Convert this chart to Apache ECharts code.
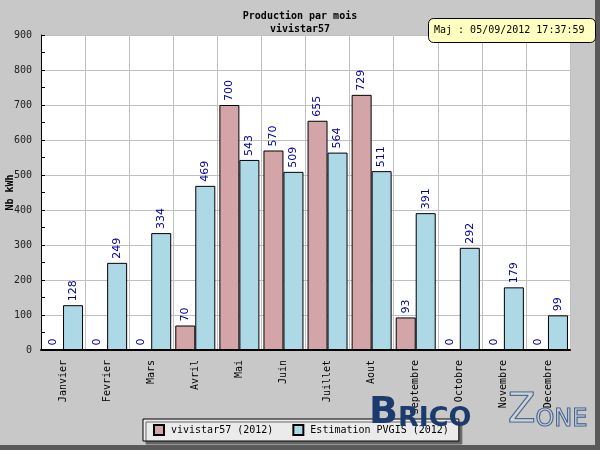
<!DOCTYPE html>
<html>
<head>
<meta charset="utf-8">
<script src="https://cdn.jsdelivr.net/npm/echarts@6/dist/echarts.min.js"></script>
<style>
  html, body { margin: 0; padding: 0; }
  #chart { width: 600px; height: 450px; }
</style>
</head>
<body>
<div id="chart"></div>
<script>
var mois = ['Janvier', 'Fevrier', 'Mars', 'Avril', 'Mai', 'Juin', 'Juillet', 'Aout', 'Septembre', 'Octobre', 'Novembre', 'Decembre']
var production = [0, 0, 0, 70, 700, 570, 655, 729, 93, 0, 0, 0]
var estimation = [128, 249, 334, 469, 543, 509, 564, 511, 391, 292, 179, 99]
var noms = ['vivistar57 (2012)', 'Estimation PVGIS (2012)']

var mono = ['DejaVu Sans Mono', 'Liberation Mono', 'monospace']

var chart = echarts.init(document.getElementById('chart'))

function barLabel() {
  return {
    show: true,
    position: 'top',
    rotate: 90,
    align: 'left',
    verticalAlign: 'middle',
    distance: 4,
    color: '#00009c',
    fontSize: 11,
    fontFamily: 'DejaVu Sans',
  }
}

var option = {
  backgroundColor: '#c8c8c8',
  animation: false,
  title: {
    text: 'Production par mois\nvivistar57',
    left: 'center',
    top: 5,
    textStyle: {
      fontFamily: mono,
      fontSize: 10,
      fontWeight: 'bold',
      color: '#000',
      lineHeight: 13,
    },
  },
  grid: {
    left: 41,
    right: 30,
    top: 35,
    bottom: 100,
    containLabel: false,
    outerBoundsMode: 'none',
    show: true,
    backgroundColor: '#fff',
    borderWidth: 0,
  },
  legend: {
    data: noms,
    icon: 'rect',
    left: 143,
    top: 419,
    padding: [5, 10, 5, 10],
    itemGap: 19,
    itemWidth: 10,
    itemHeight: 10,
    backgroundColor: '#ebebeb',
    borderColor: '#000',
    borderWidth: 1,
    shadowColor: '#666',
    shadowOffsetX: 3,
    shadowOffsetY: 3,
    shadowBlur: 0,
    textStyle: {
      fontFamily: mono,
      fontSize: 10,
      color: '#000',
      padding: [0, 0, 0, 2],
    },
  },
  xAxis: {
    type: 'category',
    data: mois,
    axisLine: { lineStyle: { color: '#000', width: 2 } },
    axisTick: { show: false },
    splitLine: { show: true, interval: 0, lineStyle: { color: '#c0c0c0' } },
    axisLabel: {
      interval: 0,
      rotate: 90,
      margin: 10,
      color: '#000',
      fontFamily: mono,
      fontSize: 10,
    },
  },
  yAxis: {
    type: 'value',
    min: 0,
    max: 900,
    interval: 100,
    name: 'Nb kWh',
    nameLocation: 'middle',
    nameGap: 26,
    nameMoveOverlap: false,
    nameTextStyle: {
      fontFamily: mono,
      fontSize: 10,
      fontWeight: 'bold',
      color: '#000',
    },
    axisLine: { show: true, lineStyle: { color: '#000' } },
    axisTick: { show: true, inside: true, length: 4, lineStyle: { color: '#000' } },
    minorTick: { show: true, splitNumber: 2, length: 4, lineStyle: { color: '#000' } },
    splitLine: { show: true, lineStyle: { color: '#c0c0c0' } },
    axisLabel: {
      margin: 9,
      color: '#222',
      fontFamily: mono,
      fontSize: 10,
    },
  },
  series: [
    {
      name: noms[0],
      type: 'bar',
      data: production,
      barWidth: 20,
      barGap: '0%',
      itemStyle: { color: '#d4a5a8', borderColor: '#000', borderWidth: 1 },
      label: barLabel(),
    },
    {
      name: noms[1],
      type: 'bar',
      data: estimation,
      barWidth: 20,
      itemStyle: { color: '#add8e6', borderColor: '#000', borderWidth: 1 },
      label: barLabel(),
    },
  ],
  graphic: [
    // ombre du cadre
    { type: 'rect', shape: { x: 595, y: 0, width: 5, height: 450 }, style: { fill: '#5a5a5a' }, z: 100 },
    { type: 'rect', shape: { x: 0, y: 445, width: 600, height: 5 }, style: { fill: '#5a5a5a' }, z: 100 },
    // cartouche date
    {
      type: 'rect',
      shape: { x: 428.5, y: 18.5, width: 167, height: 24, r: 5 },
      style: { fill: '#ffffc0', stroke: '#000', lineWidth: 1 },
      z: 101,
    },
    {
      type: 'text',
      x: 434,
      y: 25,
      style: { text: 'Maj : 05/09/2012 17:37:59', font: '10px "DejaVu Sans Mono"', fill: '#000' },
      z: 102,
    },
    // logo BricoZone
    {
      type: 'text',
      x: 369,
      y: 432,
      style: {
        text: '{b|B}{r|RICO}',
        verticalAlign: 'bottom',
        rich: {
          b: { font: 'bold 38px "DejaVu Sans"', fill: '#1b3a6e', verticalAlign: 'bottom' },
          r: { font: 'bold 27px "DejaVu Sans"', fill: '#1b3a6e', verticalAlign: 'bottom' },
        },
      },
      z: 103,
    },
    {
      type: 'text',
      x: 508,
      y: 432,
      style: {
        text: '{z|Z}{o|ONE}',
        verticalAlign: 'bottom',
        rich: {
          z: { font: '40px "DejaVu Sans"', fill: 'rgba(255,255,255,0.2)', stroke: '#3a5a8e', lineWidth: 1.2, verticalAlign: 'bottom' },
          o: { font: '24px "DejaVu Sans"', fill: 'rgba(255,255,255,0.2)', stroke: '#3a5a8e', lineWidth: 1.2, verticalAlign: 'bottom' },
        },
      },
      z: 103,
    },
  ],
}

chart.setOption(option)
</script>
</body>
</html>
